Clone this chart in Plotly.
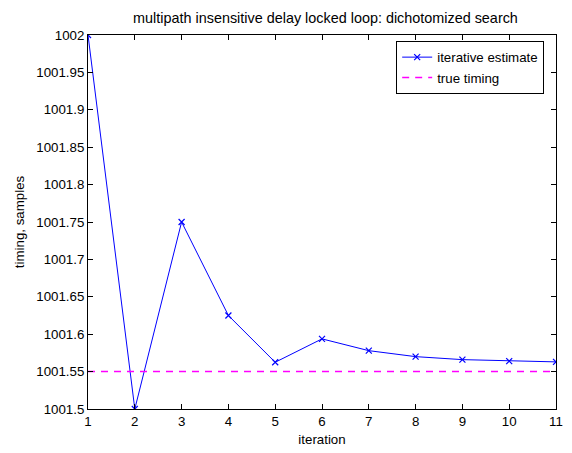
import plotly.graph_objects as go

iteration = [1, 2, 3, 4, 5, 6, 7, 8, 9, 10, 11]
estimate = [1002.0, 1001.5, 1001.75, 1001.625, 1001.5625, 1001.59375,
            1001.578, 1001.570, 1001.566, 1001.564, 1001.563]
true_timing = 1001.55
y_tickvals = [1001.5, 1001.55, 1001.6, 1001.65, 1001.7, 1001.75,
              1001.8, 1001.85, 1001.9, 1001.95, 1002.0]
y_ticktext = ["1001.5", "1001.55", "1001.6", "1001.65", "1001.7", "1001.75",
              "1001.8", "1001.85", "1001.9", "1001.95", "1002"]

FONT = "Liberation Sans, Arial, sans-serif"
FS = 13.3

fig = go.Figure()
fig.add_trace(go.Scatter(
    x=iteration, y=estimate, mode="lines+markers", name="iterative estimate",
    line=dict(color="#0000ff", width=1),
    marker=dict(symbol="x-thin", size=6, color="#0000ff",
                line=dict(color="#0000ff", width=1.2)),
))
fig.add_trace(go.Scatter(
    x=[iteration[0], iteration[-1]], y=[true_timing, true_timing],
    mode="lines", name="true timing",
    line=dict(color="#ff00ff", width=1.5, dash="7px,6px"),
))

axis_common = dict(
    showline=True, linecolor="black", linewidth=1, mirror="ticks",
    ticks="inside", ticklen=5, tickcolor="black", tickwidth=1,
    showgrid=False, zeroline=False,
    tickfont=dict(family=FONT, size=FS, color="black"),
)

L, R, T, B = 88, 9, 35, 43
W, H = 572, 453

fig.update_layout(
    width=W, height=H,
    margin=dict(l=L, r=R, t=T, b=B),
    paper_bgcolor="white", plot_bgcolor="white",
    font=dict(family=FONT, size=FS, color="black"),
    title=dict(text="multipath insensitive delay locked loop: dichotomized search",
               x=(L + (W - R)) / 2 / W, xanchor="center",
               y=1 - 18 / H, yanchor="middle",
               font=dict(family=FONT, size=14.4, color="black")),
    xaxis=dict(range=[1, 11], tickvals=iteration,
               title=dict(text="iteration", standoff=6,
                          font=dict(family=FONT, size=FS)),
               **axis_common),
    yaxis=dict(range=[1001.5, 1002.0], tickvals=y_tickvals, ticktext=y_ticktext,
               title=dict(text="timing, samples", standoff=8,
                          font=dict(family=FONT, size=FS)),
               **axis_common),
    legend=dict(x=(551 - L) / (W - L - R), xanchor="right",
                y=(H - B - 41) / (H - T - B), yanchor="top",
                bgcolor="white", bordercolor="black", borderwidth=1,
                font=dict(family=FONT, size=FS, color="black"),
                tracegroupgap=0, itemwidth=30),
    showlegend=True,
)

fig.write_html("out.html", config={"displayModeBar": False},
               post_script="document.body.style.margin='0';document.body.style.padding='0';")
